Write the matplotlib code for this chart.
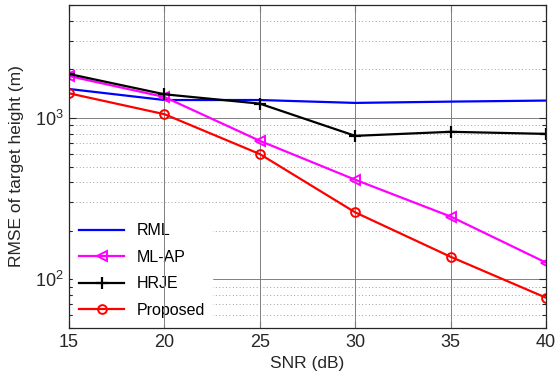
import matplotlib
matplotlib.use("Agg")
import matplotlib.pyplot as plt
from matplotlib.ticker import LogLocator, NullFormatter, LogFormatterMathtext

plt.rcParams['font.family'] = ['Liberation Sans', 'DejaVu Sans']
plt.rcParams['mathtext.fontset'] = 'custom'
plt.rcParams['mathtext.rm'] = 'Liberation Sans'

snr = [15, 20, 25, 30, 35, 40]
rml = [1510, 1290, 1290, 1238, 1261, 1280]
mlap = [1815, 1347, 721, 414, 245, 127]
hrje = [1870, 1400, 1225, 774, 820, 796]
proposed = [1420, 1054, 597, 260, 138, 77]

fig = plt.figure(figsize=(5.57, 3.76), dpi=100)
ax = fig.add_axes([69/557, 1 - 328/376, (546-69)/557, (328-5)/376])

ax.plot(snr, rml, color='#0000ff', lw=1.6, label='RML', zorder=7)
ax.plot(snr, mlap, color='#ff00ff', lw=1.6, marker='<', ms=6.5, mfc='none', mew=1.4, label='ML-AP', zorder=7)
ax.plot(snr, hrje, color='black', lw=1.6, marker='+', ms=9, mew=1.6, label='HRJE', zorder=7)
ax.plot(snr, proposed, color='#ff0000', lw=1.6, marker='o', ms=6.3, mfc='none', mew=1.4, label='Proposed', zorder=7)

ax.set_yscale('log')
ax.set_xlim(15, 40)
ax.set_ylim(50, 5000)
ax.set_xticks(snr)
ax.yaxis.set_major_locator(LogLocator(base=10, numticks=10))
ax.yaxis.set_major_formatter(LogFormatterMathtext())
ax.yaxis.set_minor_locator(LogLocator(base=10, subs=range(2, 10), numticks=20))
ax.yaxis.set_minor_formatter(NullFormatter())

ax.grid(True, which='major', axis='y', color='#808080', lw=0.7, ls='-')
ax.grid(True, which='minor', axis='y', color='#a0a0a0', lw=0.7, ls=(0, (1, 2.5)))
ax.set_axisbelow(True)
# vertical grid lines drawn above the legend box, as in the reference
for xv in snr[1:-1]:
    ax.axvline(xv, color='#808080', lw=0.7, zorder=6)

ax.tick_params(which='both', direction='in', top=True, right=True, labelsize=13, colors='#262626', width=0.8)
ax.tick_params(which='major', length=5, pad=4)
ax.tick_params(which='minor', length=3)
for s in ax.spines.values():
    s.set_color('#262626')
    s.set_linewidth(0.9)
    s.set_zorder(8)

ax.set_xlabel('SNR (dB)', fontsize=12.5, color='#262626', labelpad=4)
ax.set_ylabel('RMSE of target height (m)', fontsize=12.5, color='#262626', labelpad=8)

leg = ax.legend(loc='lower left', fontsize=11.5, frameon=True, fancybox=False,
                edgecolor='white', facecolor='white', framealpha=1,
                handlelength=2.8, borderaxespad=0.25, labelspacing=0.72)
leg.set_zorder(5)

fig.savefig('out.png', dpi=100)
